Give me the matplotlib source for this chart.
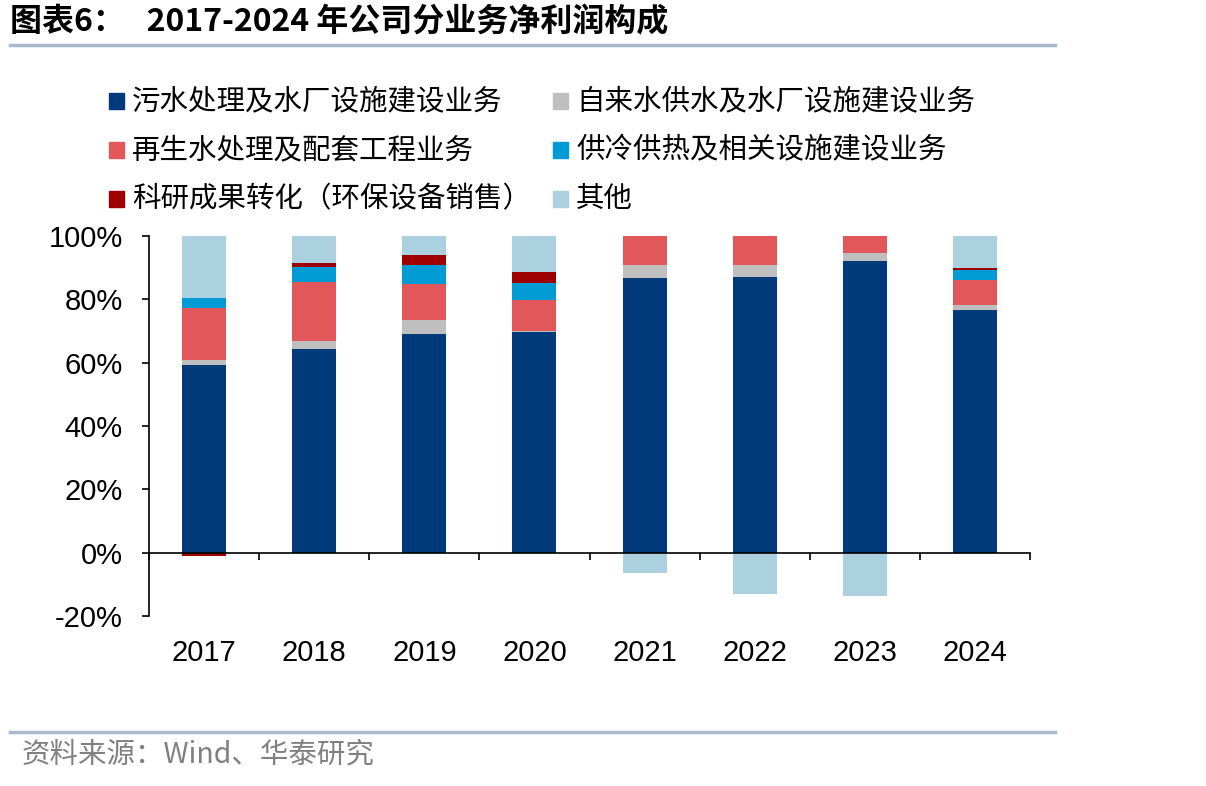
import matplotlib
matplotlib.use("Agg")
import matplotlib.pyplot as plt
import numpy as np
from matplotlib.patches import Rectangle

plt.rcParams['font.family'] = ['Noto Sans CJK SC', 'DejaVu Sans']

years = ['2017', '2018', '2019', '2020', '2021', '2022', '2023', '2024']
series_names = ['污水处理及水厂设施建设业务', '自来水供水及水厂设施建设业务',
                '再生水处理及配套工程业务', '供冷供热及相关设施建设业务',
                '科研成果转化（环保设备销售）', '其他']
sewage = [59.3, 64.2, 69.0, 69.7, 86.6, 87.0, 92.2, 76.6]
tap_water = [1.5, 2.6, 4.4, 0.2, 4.1, 3.8, 2.4, 1.6]
reclaimed = [16.5, 18.6, 11.6, 9.9, 9.3, 9.2, 5.4, 7.8]
heating = [3.2, 4.8, 5.8, 5.3, 0.0, 0.0, 0.0, 3.2]
research = [-1.2, 1.2, 3.1, 3.4, 0.0, 0.0, 0.0, 0.6]
other = [19.5, 8.6, 6.1, 11.7, -6.3, -13.2, -13.7, 10.2]
yticks = [-20, 0, 20, 40, 60, 80, 100]

colors = ['#003A7A', '#BFBFBF', '#E1575A', '#009BD4', '#9E0000', '#ABD0E0']
data = [sewage, tap_water, reclaimed, heating, research, other]

fig = plt.figure(figsize=(12.06, 7.86), dpi=100)
ax = fig.add_axes([149/1206, 1-616/786, 881/1206, 380/786])

x = np.arange(len(years))
pos_base = np.zeros(len(years))
neg_base = np.zeros(len(years))
for vals, c in zip(data, colors):
    v = np.array(vals, dtype=float)
    bottoms = np.where(v >= 0, pos_base, neg_base)
    ax.bar(x, v, 0.4, bottom=bottoms, color=c, zorder=2)
    pos_base += np.where(v >= 0, v, 0)
    neg_base += np.where(v < 0, v, 0)

ax.set_xlim(-0.5, len(years) - 0.5)
ax.set_ylim(-20, 100)
ax.set_yticks(yticks)
ax.set_yticklabels([f'{t}%' for t in yticks], fontsize=21, family='Liberation Sans')
ax.tick_params(axis='y', length=5, width=1.2, direction='out', pad=14, color='black')

for s in ['top', 'right']:
    ax.spines[s].set_visible(False)
ax.spines['left'].set_color('black')
ax.spines['left'].set_linewidth(1.2)
ax.spines['bottom'].set_position(('data', 0))
ax.spines['bottom'].set_color('black')
ax.spines['bottom'].set_linewidth(1.2)
ax.spines['bottom'].set_zorder(3)
ax.set_xticks(x)
ax.set_xticklabels(years, fontsize=21, family='Liberation Sans')
ax.tick_params(axis='x', which='major', length=0, pad=62)
ax.set_xticks(np.arange(len(years) + 1) - 0.5, minor=True)
ax.tick_params(axis='x', which='minor', length=5, width=1.2, direction='out', color='black')

# title
fig.text(10/1206, 1-22/786, '图表6：   2017-2024 年公司分业务净利润构成', fontsize=23,
         fontweight='bold', va='center', ha='left')
fig.add_artist(plt.Line2D([10/1206, 1055/1206], [1-45/786, 1-45/786],
                          color='#A9B9CC', lw=2.5))
fig.add_artist(plt.Line2D([10/1206, 1055/1206], [1-732/786, 1-732/786],
                          color='#A9B9CC', lw=2.5))
fig.text(22/1206, 1-755/786, '资料来源：Wind、华泰研究', fontsize=20.5, color='#808080',
         va='center', ha='left')

# legend (manual, 3 rows x 2 cols)
col_x = [109, 553]
row_y = [101, 150, 199]
for i, (name, c) in enumerate(zip(series_names, colors)):
    r, cidx = divmod(i, 2)
    mx, my = col_x[cidx], row_y[r]
    fig.add_artist(Rectangle((mx/1206, 1-(my+8)/786), 15/1206, 16/786,
                             color=c, transform=fig.transFigure))
    fig.text((mx+23)/1206, 1-my/786, name, fontsize=20.5, va='center', ha='left')

fig.savefig('out.png', dpi=100)
